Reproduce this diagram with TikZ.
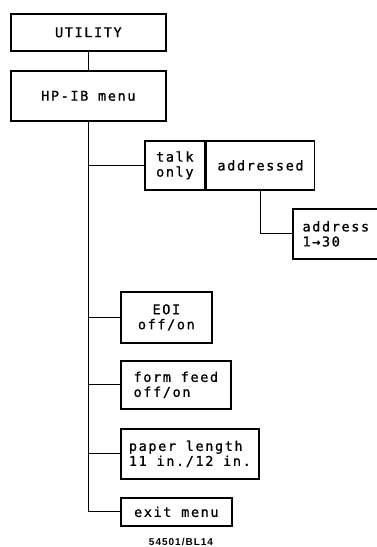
\documentclass[tikz,border=0pt]{standalone}
\usepackage{fontspec}
\newfontfamily\plotfont[LetterSpace=12,FakeBold=1]{DejaVu Sans Mono}
\newfontfamily\capfont[LetterSpace=10]{Liberation Sans}
\usetikzlibrary{positioning}

\begin{document}
\begin{tikzpicture}[x=1pt,y=-1pt,
  menubox/.style={draw,line width=1.7pt,anchor=north west,inner sep=0pt,align=left,
    font=\plotfont\fontsize{13.5}{15}\selectfont},
  link/.style={line width=1pt}]
  \useasboundingbox (0,0) rectangle (376,547);
  % menu keys
  \node[menubox,minimum width=155pt,minimum height=37pt] (utility) at (10,13) {UTILITY};
  \node[menubox,minimum width=155pt,minimum height=50pt] (hpib) at (10,70) {HP-IB menu};
  \node[menubox,minimum width=60pt,minimum height=49pt] (talk) at (144,140) {talk\\only};
  \node[menubox,minimum width=108pt,minimum height=49pt,right=0pt of talk] (addressed) {addressed};
  \node[menubox,minimum width=86pt,minimum height=50pt] (address) at (292,208) {address\\1→30};
  \node[menubox,minimum width=91pt,minimum height=51pt,align=center] (eoi) at (120,291) {EOI\\off/on};
  \node[menubox,minimum width=110pt,minimum height=48pt] (feed) at (120,360) {form feed\\off/on};
  \node[menubox,minimum width=138pt,minimum height=50pt] (paper) at (120,428) {paper length\\11 in./12 in.};
  \node[menubox,minimum width=111pt,minimum height=28pt] (exitm) at (120,497) {exit menu};
  \node[font=\capfont\bfseries\fontsize{10}{12}\selectfont] (fignum) at (181,542) {54501/BL14};
  % connectors
  \draw[link] (utility) -- (hpib);
  \foreach \k in {talk,eoi,feed,paper,exitm}
    \draw[link] (hpib.south) |- (\k.west);
  \draw[link] (addressed.south) |- (address.west);
\end{tikzpicture}
\end{document}
